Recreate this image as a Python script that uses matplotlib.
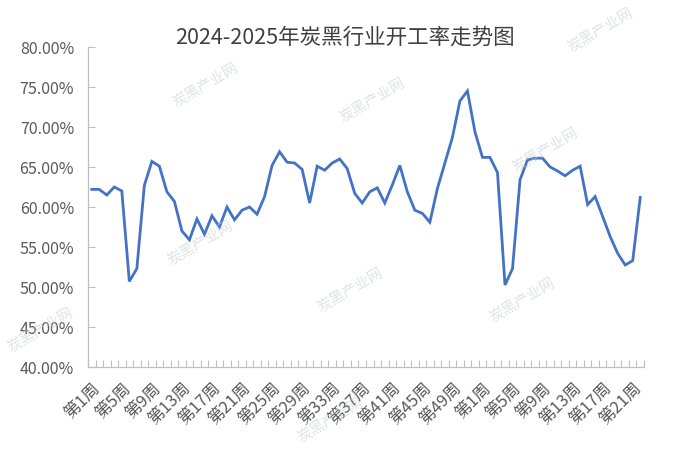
import numpy as np
import matplotlib.pyplot as plt
from matplotlib.ticker import FixedLocator, FuncFormatter

plt.rcParams['font.family'] = ['Noto Sans CJK SC', 'DejaVu Sans']

# 2024 weeks 1-52, then 2025 weeks 1-22
weeks_2024 = list(range(1, 53))
weeks_2025 = list(range(1, 23))
week_labels = ['第%d周' % w for w in weeks_2024 + weeks_2025]

rate = [62.2, 62.2, 61.5, 62.5, 62.0, 50.7, 52.3, 62.7, 65.7, 65.1,
        61.9, 60.7, 57.0, 55.9, 58.5, 56.6, 58.9, 57.5, 60.0, 58.4,
        59.6, 60.0, 59.1, 61.3, 65.2, 66.9, 65.6, 65.5, 64.7, 60.5,
        65.1, 64.6, 65.5, 66.0, 64.8, 61.7, 60.5, 61.9, 62.4, 60.5,
        62.75, 65.2, 61.9, 59.6, 59.2, 58.1, 62.3, 65.5, 68.7, 73.25,
        74.5, 69.4, 66.2, 66.2, 64.3, 50.25, 52.3, 63.4, 65.9, 66.1,
        66.1, 65.0, 64.5, 63.9, 64.6, 65.1, 60.3, 61.3, 58.8, 56.3,
        54.2, 52.75, 53.3, 61.2]

title = '2024-2025年炭黑行业开工率走势图'

fig = plt.figure(figsize=(6.93, 4.53), dpi=100)
ax = fig.add_axes([88/693, 1-367/453, 556/693, 320/453])

x = np.arange(len(rate))
ax.plot(x, rate, color='#4472c4', lw=2.0, solid_joinstyle='miter')

ax.set_xlim(-0.5, len(rate) - 0.5)
ax.set_ylim(40, 80)
ax.set_yticks(np.arange(40, 80.1, 5))
ax.yaxis.set_major_formatter(FuncFormatter(lambda v, p: '%.2f%%' % v))

ax.set_xticks(x[::4])
ax.set_xticklabels(week_labels[::4], rotation=45, ha='right',
                   rotation_mode='anchor')
ax.xaxis.set_minor_locator(FixedLocator(np.arange(-0.5, len(rate), 1)))

ax.tick_params(axis='x', which='major', length=0, pad=9,
               labelsize=12, colors='#595959')
ax.tick_params(axis='x', which='minor', direction='in', length=5,
               color='#bfbfbf', width=0.8)
ax.tick_params(axis='y', direction='in', length=5, color='#bfbfbf',
               width=0.8, labelsize=11.5, labelcolor='#595959', pad=10)

for s in ['top', 'right']:
    ax.spines[s].set_visible(False)
for s in ['left', 'bottom']:
    ax.spines[s].set_color('#bfbfbf')
    ax.spines[s].set_linewidth(0.9)

fig.text(0.497, 1-38/453, title, ha='center', va='center',
         fontsize=15.5, color='#404040')

# faint watermarks
marks = [(205, 85), (372, 100), (200, 243), (350, 290), (545, 150),
         (522, 300), (330, 420), (600, 30), (40, 330)]
for mx, my in marks:
    fig.text(mx/693, 1-my/453, '炭黑产业网', ha='center', va='center',
             rotation=30, fontsize=10.5, color='#c8cccc', alpha=0.55)

fig.savefig('out.png', dpi=100, facecolor='white')
